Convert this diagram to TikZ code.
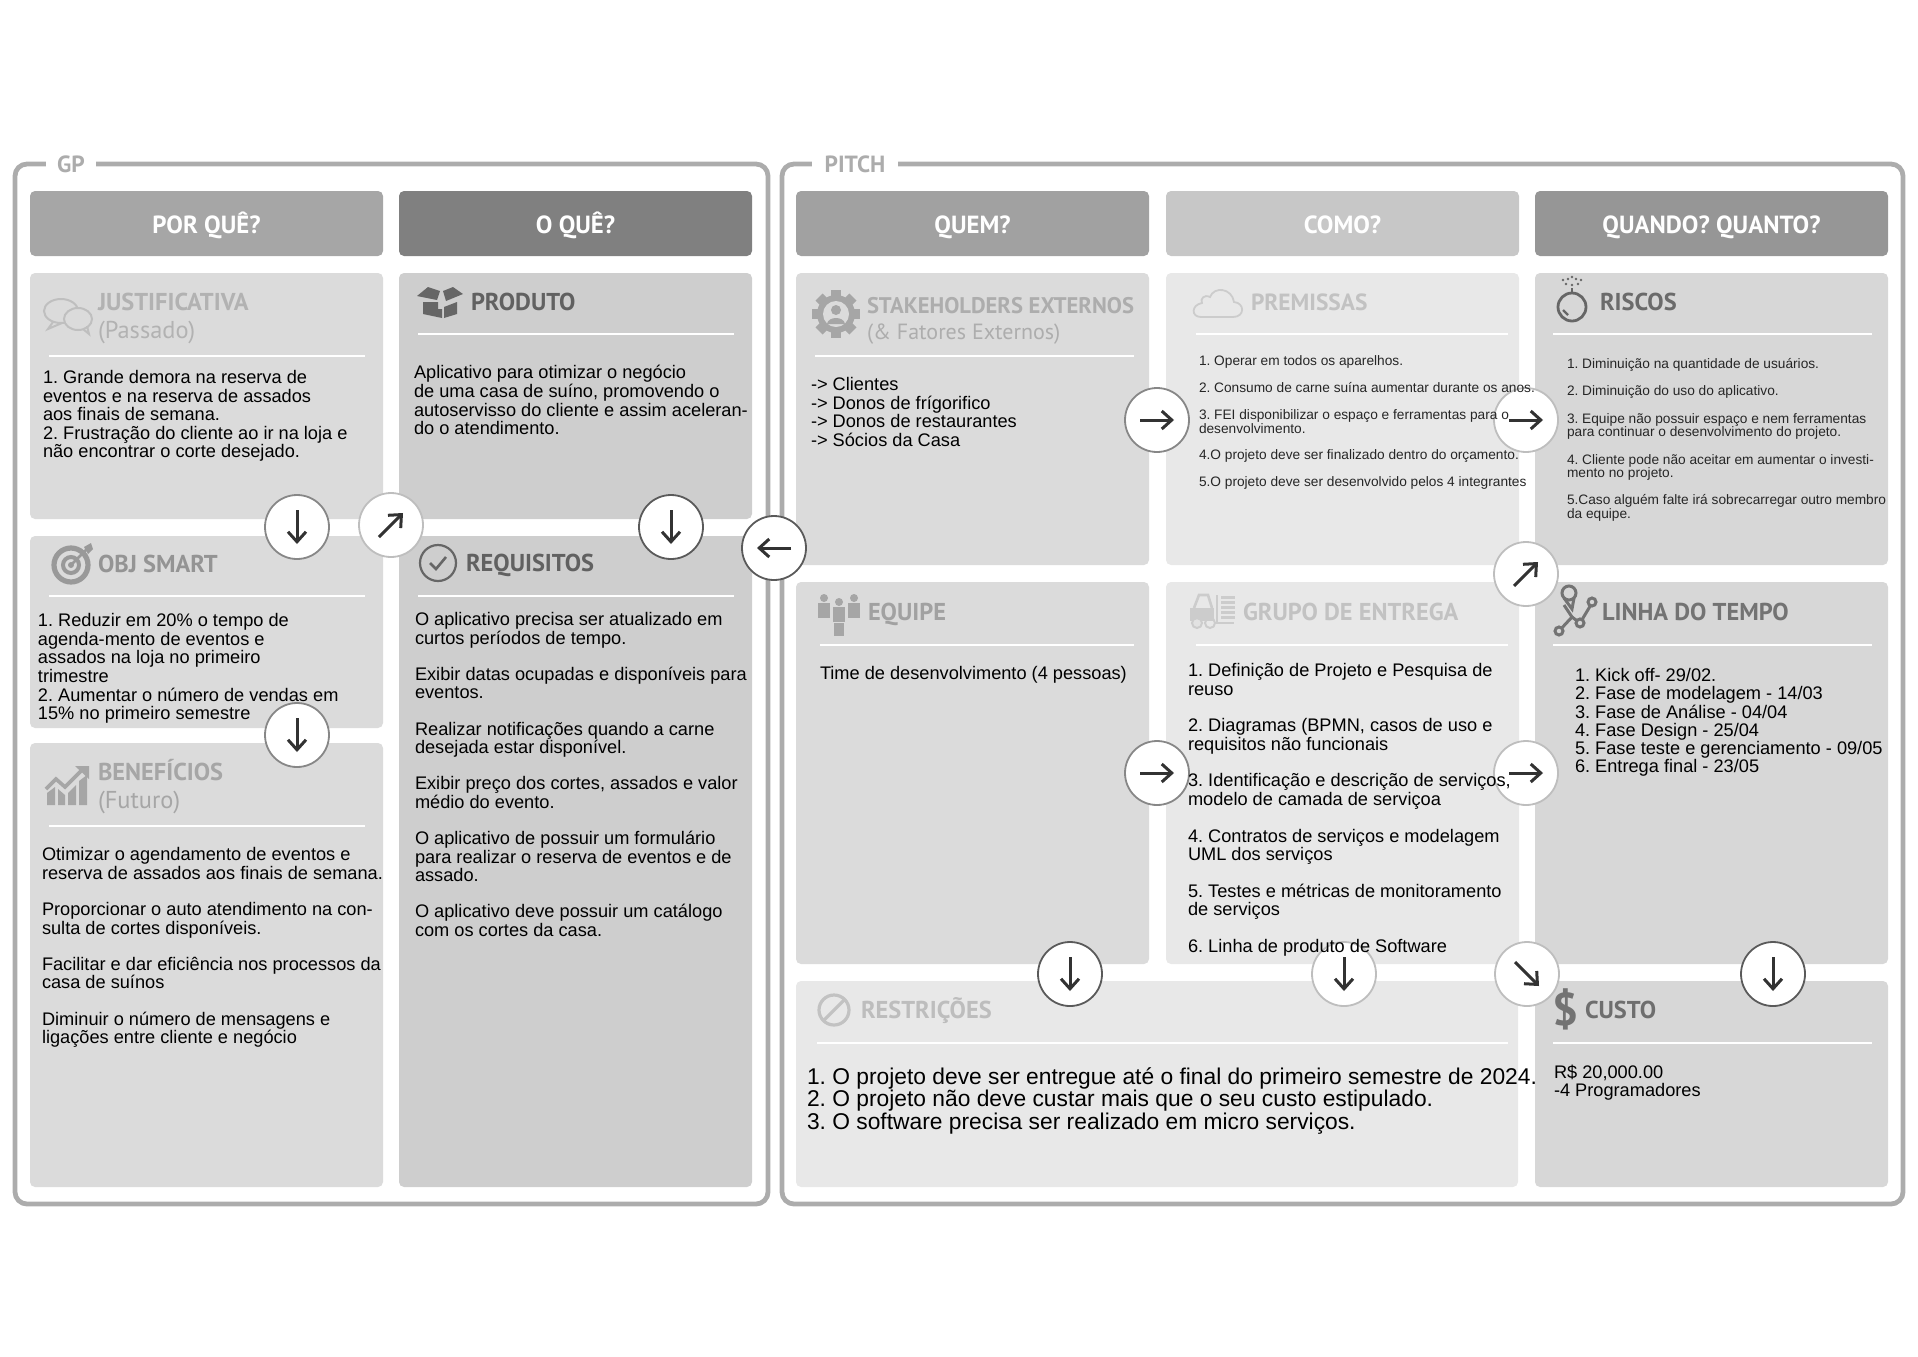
\documentclass[tikz,border=0pt]{standalone}
\usepackage{fontspec}
\setmainfont{Liberation Sans}
\newfontfamily\titlefont{PT Sans}
\usepackage{tikz}
\usetikzlibrary{arrows.meta,positioning,backgrounds,fit,calc}
\definecolor{cellpale}{RGB}{232,232,232}
\definecolor{celllight}{RGB}{219,219,219}
\definecolor{cellmid}{RGB}{215,215,215}
\definecolor{celldark}{RGB}{206,206,206}
\definecolor{framegrey}{RGB}{172,172,172}
\definecolor{arrowink}{RGB}{50,50,50}
\definecolor{rimdark}{RGB}{90,90,90}
\definecolor{rimmid}{RGB}{135,135,135}
\definecolor{rimlight}{RGB}{190,190,190}
\tikzset{
  headerbox/.style={rounded corners=2.5pt,minimum width=176.5pt,minimum height=32.5pt,
    inner sep=0pt,outer sep=0pt,text=white,text height=12pt,text depth=2pt,
    font=\titlefont\bfseries\fontsize{12.4}{13}\selectfont},
  cellbox/.style={rounded corners=2.5pt,minimum width=176.5pt,inner sep=0pt,outer sep=0pt},
  panelframe/.style={draw=framegrey,line width=2.4pt,rounded corners=6pt,inner sep=0pt},
  paneltag/.style={fill=white,inner ysep=2.5pt,text=framegrey,
    font=\titlefont\bfseries\fontsize{11.7}{12}\selectfont},
  celltitle/.style={anchor=west,inner sep=0pt,outer sep=0pt,text=#1,text height=8.5pt,text depth=0pt,
    font=\titlefont\bfseries\fontsize{12.2}{13}\selectfont},
  cellnote/.style={anchor=west,inner sep=0pt,outer sep=0pt,text=#1,text height=8.5pt,text depth=0pt,
    font=\titlefont\fontsize{12.2}{13}\selectfont},
  titlerule/.style={draw=white,line width=1.1pt},
  bodytext/.style={inner sep=0pt,outer sep=0pt,align=left,text=black,font=\fontsize{9.1}{9.3}\selectfont},
  smalltext/.style={inner sep=0pt,outer sep=0pt,align=left,text=black!85,font=\fontsize{6.85}{6.7}\selectfont},
  bigtext/.style={inner sep=0pt,outer sep=0pt,align=left,text=black,font=\fontsize{11.4}{11.3}\selectfont},
  badge/.style={circle,fill=white,line width=0.9pt,minimum size=32pt,inner sep=0pt},
  arrowmark/.style={draw=arrowink,line width=1.5pt,-{Straight Barb[length=5pt,width=9pt]}}
}

\begin{document}
\frenchspacing
\begin{tikzpicture}[x=0.5pt,y=-0.5pt]
  \useasboundingbox (0,0) rectangle (1918,1356);

  % column heads
  \node[headerbox,fill=black!35] (porque) at (206.5,223.5) {POR QUÊ?};
  \node[headerbox,fill=black!50,right=8pt of porque] (oque) {O QUÊ?};
  \node[headerbox,fill=black!37,right=22pt of oque] (quem) {QUEM?};
  \node[headerbox,fill=black!22,right=8.5pt of quem] (como) {COMO?};
  \node[headerbox,fill=black!41,right=8pt of como] (quando) {QUANDO? QUANTO?};

  % cells
  \node[cellbox,fill=celllight,minimum height=123pt,below=8.5pt of porque] (justificativa) {};
  \node[cellbox,fill=celllight,minimum height=96pt,below=8.5pt of justificativa] (objsmart) {};
  \node[cellbox,fill=celllight,minimum height=222pt,below=7.5pt of objsmart] (beneficios) {};
  \node[cellbox,fill=celldark,minimum height=123pt,below=8.5pt of oque] (produto) {};
  \node[cellbox,fill=celldark,minimum height=325.5pt,below=8.5pt of produto] (requisitos) {};
  \node[cellbox,fill=celllight,minimum height=146pt,below=8.5pt of quem] (stakeholders) {};
  \node[cellbox,fill=celllight,minimum height=191pt,below=8.5pt of stakeholders] (equipe) {};
  \node[cellbox,fill=cellpale,minimum height=146pt,below=8.5pt of como] (premissas) {};
  \node[cellbox,fill=cellpale,minimum height=191pt,below=8.5pt of premissas] (grupo) {};
  \node[cellbox,fill=cellmid,minimum height=146pt,below=8.5pt of quando] (riscos) {};
  \node[cellbox,fill=cellmid,minimum height=191pt,below=8.5pt of riscos] (linha) {};
  \node[cellbox,fill=cellpale,minimum width=361pt,minimum height=103pt,
    below right=8.5pt and 0pt of equipe.south west] (restricoes) {};
  \node[cellbox,fill=cellmid,minimum height=103pt,below=8.5pt of linha] (custo) {};

  % outer frames
  \coordinate (gpnw) at (15,164);
  \coordinate (gpse) at (768,1204);
  \coordinate (pitchnw) at (782,164);
  \coordinate (pitchse) at (1903,1204);
  \begin{scope}[on background layer]
    \node[panelframe,fit=(gpnw)(gpse)] (gpframe) {};
    \node[panelframe,fit=(pitchnw)(pitchse)] (pitchframe) {};
  \end{scope}
  \node[paneltag,inner xsep=5.5pt] (gptag) at (71,164) {GP};
  \node[paneltag,inner xsep=6.5pt] (pitchtag) at (855,164) {PITCH};

  % rules below the titles
  \foreach \xa/\xb/\yy in {49/365/356,418/734/334,49/365/596,418/734/596,49/365/826,
      815/1134/356,1196/1508/334,1553/1872/334,820/1134/645,1196/1508/645,1553/1872/645,
      817/1508/1043,1553/1872/1043}
    \draw[titlerule] (\xa,\yy) -- (\xb,\yy);

  % round arrow marks
  \foreach \nm/\cx/\cy/\dx/\dy/\rim in {
      mjust/297/527/0/17/rimmid,mprod/391/525/12/-12/rimlight,mreq/671/527/0/17/rimdark,
      mback/774/548/-17/0/rimdark,mobj/297/735/0/17/rimmid,mstake/1157/420/17/0/rimmid,
      mprem/1526/420/17/0/rimlight,mrisc/1526/574/12/-12/rimlight,mequi/1157/773/17/0/rimmid,
      mgrup/1526/773/17/0/rimlight,mrest/1070/974/0/17/rimdark,mentr/1344/974/0/17/rimlight,
      mcros/1527/974/12/12/rimlight,mcust/1773/974/0/17/rimdark}{
    \node[badge,draw=\rim] (\nm) at (\cx,\cy) {};
    \draw[arrowmark] ($(\nm)-(\dx,\dy)$) -- ($(\nm)+(\dx,\dy)$);
  }

  % titles
  \node[celltitle=black!30] (tjust) at (98,302) {JUSTIFICATIVA};
  \node[cellnote=black!30] (njust) at (98,330) {(Passado)};
  \node[celltitle=black!62] (tprod) at (471,302) {PRODUTO};
  \node[celltitle=black!42] (tobj) at (98,564) {OBJ SMART};
  \node[celltitle=black!62] (treq) at (466,563) {REQUISITOS};
  \node[celltitle=black!35] (tben) at (98,772) {BENEFÍCIOS};
  \node[cellnote=black!35] (nben) at (98,800) {(Futuro)};
  \node[celltitle=black!32,font=\titlefont\bfseries\fontsize{11.3}{13}\selectfont] (tstake) at (867,305)
    {STAKEHOLDERS EXTERNOS};
  \node[cellnote=black!32,font=\titlefont\fontsize{11}{13}\selectfont] (nstake) at (867,331)
    {(\& Fatores Externos)};
  \node[celltitle=black!24,font=\titlefont\bfseries\fontsize{11.7}{13}\selectfont] (tprem) at (1251,302)
    {PREMISSAS};
  \node[celltitle=black!58] (trisc) at (1600,302) {RISCOS};
  \node[celltitle=black!37] (tequi) at (868,612) {EQUIPE};
  \node[celltitle=black!24] (tgrup) at (1243,612) {GRUPO DE ENTREGA};
  \node[celltitle=black!55] (tlinha) at (1602,612) {LINHA DO TEMPO};
  \node[celltitle=black!26] (trest) at (861,1010) {RESTRIÇÕES};
  \node[celltitle=black!57] (tcust) at (1585,1010) {CUSTO};

  % body texts
  \node[bodytext,below right=48.7pt and 6.5pt of justificativa.north west] (bjust)
    {1. Grande demora na reserva de\\eventos e na reserva de assados\\aos finais de semana.\\
     2. Frustração do cliente ao ir na loja e\\não encontrar o corte desejado.};
  \node[bodytext,below right=46.2pt and 7.5pt of produto.north west] (bprod)
    {Aplicativo para otimizar o negócio\\de uma casa de suíno, promovendo o\\
     autoservisso do cliente e assim aceleran-\\do o atendimento.};
  \node[bodytext,below right=38.7pt and 4pt of objsmart.north west] (bobj)
    {1. Reduzir em 20\% o tempo de\\agenda-mento de eventos e\\assados na loja no primeiro\\
     trimestre\\2. Aumentar o número de vendas em\\15\% no primeiro semestre};
  \node[bodytext,below right=38.2pt and 8pt of requisitos.north west] (breq)
    {O aplicativo precisa ser atualizado em\\curtos períodos de tempo.\\[8.75pt]
     Exibir datas ocupadas e disponíveis para\\eventos.\\[8.75pt]
     Realizar notificações quando a carne\\desejada estar disponível.\\[8.75pt]
     Exibir preço dos cortes, assados e valor\\médio do evento.\\[8.75pt]
     O aplicativo de possuir um formulário\\para realizar o reserva de eventos e de\\assado.\\[8.75pt]
     O aplicativo deve possuir um catálogo\\com os cortes da casa.};
  \node[bodytext,below right=52.2pt and 6pt of beneficios.north west] (bben)
    {Otimizar o agendamento de eventos e\\reserva de assados aos finais de semana.\\[8.8pt]
     Proporcionar o auto atendimento na con-\\sulta de cortes disponíveis.\\[8.8pt]
     Facilitar e dar eficiência nos processos da\\casa de suínos\\[8.8pt]
     Diminuir o número de mensagens e\\ligações entre cliente e negócio};
  \node[bodytext,below right=52.2pt and 7.5pt of stakeholders.north west] (bstake)
    {-> Clientes\\-> Donos de frígorifico\\-> Donos de restaurantes\\-> Sócios da Casa};
  \node[bodytext,below right=42.2pt and 12pt of equipe.north west] (bequi)
    {Time de desenvolvimento (4 pessoas)};
  \node[smalltext,below right=41.2pt and 16.5pt of premissas.north west] (bprem)
    {1. Operar em todos os aparelhos.\\[6.7pt]
     2. Consumo de carne suína aumentar durante os anos.\\[7.1pt]
     3. FEI disponibilizar o espaço e ferramentas para o\\desenvolvimento.\\[6.7pt]
     4.O projeto deve ser finalizado dentro do orçamento.\\[6.7pt]
     5.O projeto deve ser desenvolvido pelos 4 integrantes};
  \node[smalltext,below right=42.7pt and 16pt of riscos.north west] (brisc)
    {1. Diminuição na quantidade de usuários.\\[7pt]
     2. Diminuição do uso do aplicativo.\\[7pt]
     3. Equipe não possuir espaço e nem ferramentas\\para continuar o desenvolvimento do projeto.\\[7pt]
     4. Cliente pode não aceitar em aumentar o investi-\\mento no projeto.\\[7pt]
     5.Caso alguém falte irá sobrecarregar outro membro\\da equipe.};
  \node[bodytext,below right=40.6pt and 11pt of grupo.north west] (bgrup)
    {1. Definição de Projeto e Pesquisa de\\reuso\\[9pt]
     2. Diagramas (BPMN, casos de uso e\\requisitos não funcionais\\[9pt]
     3. Identificação e descrição de serviços,\\modelo de camada de serviçoa\\[9pt]
     4. Contratos de serviços e modelagem\\UML dos serviços\\[9pt]
     5. Testes e métricas de monitoramento\\de serviços\\[9pt]
     6. Linha de produto de Software};
  \node[bodytext,font=\fontsize{9.1}{9.1}\selectfont,below right=43.2pt and 20pt of linha.north west] (blinha)
    {1. Kick off- 29/02.\\2. Fase de modelagem - 14/03\\3. Fase de Análise - 04/04\\
     4. Fase Design - 25/04\\5. Fase teste e gerenciamento - 09/05\\6. Entrega final - 23/05};
  \node[bigtext,below right=43.2pt and 5.5pt of restricoes.north west] (brest)
    {1. O projeto deve ser entregue até o final do primeiro semestre de 2024.\\
     2. O projeto não deve custar mais que o seu custo estipulado.\\
     3. O software precisa ser realizado em micro serviços.};
  \node[bodytext,below right=41.8pt and 9.5pt of custo.north west] (bcust)
    {R\$ 20,000.00\\-4 Programadores};
  \node[inner sep=0pt,text=black!55,font=\titlefont\bfseries\fontsize{23}{24}\selectfont] (idollar)
    at (1566,1009) {\$};

  % icons
  \begin{scope}[shift={(67,314)},color=black!25,line width=1pt]
    \draw (-6,-3) ellipse (17 and 12);
    \draw (-14,8) -- (-19,15) -- (-5,9);
    \draw[fill=celllight] (11,5) ellipse (14 and 11);
    \draw (16,15) -- (22,20) -- (20,12);
  \end{scope}
  \begin{scope}[shift={(440,302)},color=black!60]
    \fill (-17,0) -- (-2,0) -- (-2,7) -- (2,7) -- (2,16) -- (-17,12) -- cycle;
    \fill (4,5) -- (17,0) -- (17,12) -- (4,16) -- cycle;
    \fill (-23,-6) -- (-12,-15) -- (0,-11) -- (-3,-2) -- cycle;
    \fill (3,-11) -- (13,-15) -- (23,-8) -- (6,-1) -- cycle;
  \end{scope}
  \begin{scope}[shift={(71,564)},color=black!40]
    \draw[line width=2.6pt] (0,1) circle (17);
    \draw[line width=2pt] (0,1) circle (8);
    \fill (0,1) circle (3);
    \draw[line width=1.3pt] (0,1) -- (17,-16);
    \fill (13,-17) -- (20,-21) -- (22,-15) -- (17,-10) -- cycle;
  \end{scope}
  \begin{scope}[shift={(438,563)},color=black!60,line width=1.1pt]
    \draw (0,0) circle (18);
    \draw[line width=1.3pt] (-8,0) -- (-2,6) -- (8,-6);
  \end{scope}
  \begin{scope}[shift={(67,787)},color=black!35]
    \fill (-20,18) -- (-20,6) -- (-12,0) -- (-12,18) -- cycle;
    \fill (-9,18) -- (-9,2) -- (-2,8) -- (-2,18) -- cycle;
    \fill (1,18) -- (1,6) -- (9,-2) -- (9,18) -- cycle;
    \fill (12,18) -- (12,-6) -- (20,-12) -- (20,18) -- cycle;
    \draw[line width=1.8pt] (-21,2) -- (-11,-8) -- (-2,0) -- (14,-16);
    \fill (8,-21) -- (22,-21) -- (22,-8) -- cycle;
  \end{scope}
  \begin{scope}[shift={(836,314)},color=black!35]
    \foreach \a in {0,45,...,315}
      \fill[rotate=\a] (-5,-24) rectangle (5,-15);
    \fill (0,0) circle (19);
    \fill[celllight] (0,0) circle (13);
    \fill (0,-4) circle (5);
    \fill (-9,10) .. controls (-8,2) and (8,2) .. (9,10) -- cycle;
  \end{scope}
  \begin{scope}[shift={(1218,303)},color=black!20,line width=0.9pt]
    \draw (-17,14) -- (15,14) .. controls (27,14) and (27,0) .. (16,-1)
      .. controls (14,-15) and (-4,-17) .. (-8,-6) .. controls (-14,-9) and (-18,-4) .. (-16,0)
      .. controls (-27,2) and (-27,14) .. (-17,14) -- cycle;
  \end{scope}
  \begin{scope}[shift={(1572,302)},color=black!60]
    \draw[line width=1.4pt] (0,5) circle (14);
    \draw[line width=1.1pt] (-9,8) -- (-4,13);
    \draw[line width=1.1pt] (0,-9) -- (0,-14);
    \foreach \sx/\sy in {0/-17,-6/-18,6/-18,-4/-23,4/-23,0/-25,-9/-22,9/-22}
      \fill (\sx,\sy) circle (1.3);
  \end{scope}
  \begin{scope}[shift={(839,612)},color=black!35]
    \foreach \px/\py in {-15/-8,15/-8,0/-4}{
      \fill (\px,\py-6) circle (4);
      \fill (\px-6,\py-1) rectangle (\px+6,\py+14);
    }
    \fill (-5,11) rectangle (5,24);
  \end{scope}
  \begin{scope}[shift={(1212,612)},color=black!20]
    \draw[line width=1.3pt] (-18,-4) -- (-13,-17) -- (-4,-17) -- (0,-4);
    \fill (-22,-4) rectangle (2,9);
    \draw[line width=1.2pt] (5,-17) -- (5,11) -- (22,11);
    \fill[celllight!80!white] (-15,11) circle (4);
    \draw[line width=1pt] (-15,11) circle (5);
    \draw[line width=1pt] (-2,11) circle (5);
    \foreach \ly in {-16,-11,-6,-1,4}
      \fill (9,\ly) rectangle (23,\ly+3);
  \end{scope}
  \begin{scope}[shift={(1574,613)},color=black!55,line width=1.5pt]
    \draw (-15,18) -- (-2,4) -- (-10,-8);
    \draw (-2,4) -- (6,10) -- (18,-10);
    \draw (-5,-20) circle (7);
    \draw (-10,-15) -- (-2,-4) -- (0,-15);
    \draw[fill=cellmid] (-15,18) circle (4);
    \draw[fill=cellmid] (6,10) circle (4);
    \draw[fill=cellmid] (18,-11) circle (4);
  \end{scope}
  \begin{scope}[shift={(834,1010)},color=black!24,line width=1.6pt]
    \draw (0,0) circle (15);
    \draw (-10,10) -- (10,-10);
  \end{scope}
\end{tikzpicture}
\end{document}
